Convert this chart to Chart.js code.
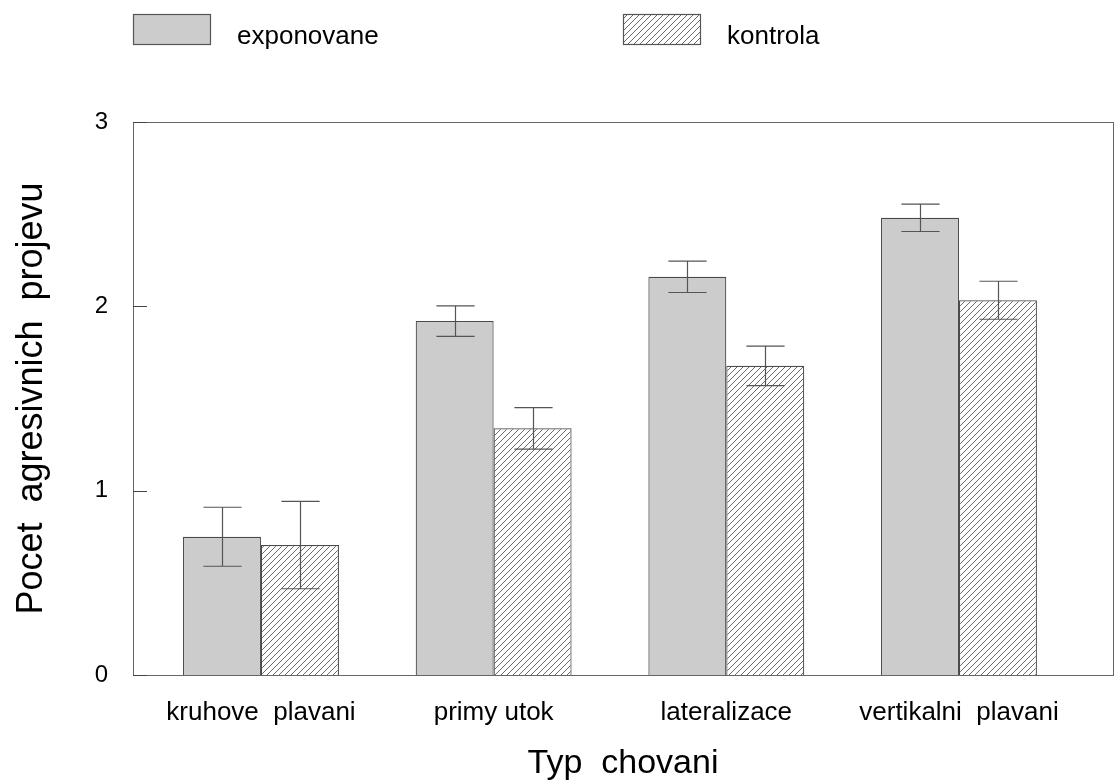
<!DOCTYPE html>
<html>
<head>
<meta charset="utf-8">
<script src="https://cdn.jsdelivr.net/npm/chart.js@4.4.1/dist/chart.umd.min.js"></script>
<style>
  html, body { margin: 0; padding: 0; background: #ffffff; }
  #wrap { width: 1119px; height: 784px; position: relative; }
</style>
</head>
<body>
<div id="wrap"><canvas id="chart" width="1119" height="784"></canvas></div>
<script>
// Behaviour categories and group means with standard errors
const categories = ['kruhove  plavani', 'primy utok', 'lateralizace', 'vertikalni  plavani'];
const seriesNames = ['exponovane', 'kontrola'];
const exponovane = [0.75, 1.92, 2.16, 2.48];
const exponovaneErr = [0.16, 0.083, 0.085, 0.074];
const kontrola = [0.705, 1.338, 1.677, 2.033];
const kontrolaErr = [0.237, 0.113, 0.107, 0.103];
const yTicks = [0, 1, 2, 3];

const FONT = "'Liberation Sans', Arial, sans-serif";

// Diagonal hatch fill for the control group
function makeHatch() {
  const s = 6;
  const c = document.createElement('canvas');
  c.width = s; c.height = s;
  const g = c.getContext('2d');
  g.fillStyle = '#ffffff';
  g.fillRect(0, 0, s, s);
  g.strokeStyle = '#6a6a6a';
  g.lineWidth = 1;
  g.beginPath();
  g.moveTo(0, s); g.lineTo(s, 0);
  g.moveTo(-1, 1); g.lineTo(1, -1);
  g.moveTo(s - 1, s + 1); g.lineTo(s + 1, s - 1);
  g.stroke();
  return g.createPattern(c, 'repeat');
}
const ctx0 = document.getElementById('chart').getContext('2d');
const hatch = makeHatch();

const toPoints = arr => arr.map((v, i) => ({ x: i + 1, y: v }));

// Error bars, inward ticks, frame and legend
const decorations = {
  id: 'decorations',
  afterDatasetsDraw(chart) {
    const { ctx, scales } = chart;
    const ys = scales.y;
    const errs = [exponovaneErr, kontrolaErr];
    ctx.save();
    ctx.strokeStyle = '#555555';
    ctx.lineWidth = 1.2;
    chart.data.datasets.forEach((ds, di) => {
      const meta = chart.getDatasetMeta(di);
      meta.data.forEach((bar, i) => {
        const v = ds.data[i].y, e = errs[di][i];
        const x = Math.round(bar.x) + 0.5;
        const yt = ys.getPixelForValue(v + e);
        const yb = ys.getPixelForValue(v - e);
        const hw = bar.width * 0.245;
        ctx.beginPath();
        ctx.moveTo(x, yt); ctx.lineTo(x, yb);
        ctx.moveTo(x - hw, yt); ctx.lineTo(x + hw, yt);
        ctx.moveTo(x - hw, yb); ctx.lineTo(x + hw, yb);
        ctx.stroke();
      });
    });
    ctx.restore();
  },
  afterDraw(chart) {
    const { ctx, chartArea: a, scales } = chart;
    const ys = scales.y;
    ctx.save();
    // frame
    ctx.strokeStyle = '#666666';
    ctx.lineWidth = 1;
    ctx.strokeRect(Math.round(a.left) + 0.5, Math.round(a.top) + 0.5,
                   Math.round(a.right - a.left), Math.round(a.bottom - a.top));
    // inward y ticks
    ctx.strokeStyle = '#444444';
    ctx.beginPath();
    yTicks.forEach(t => {
      const y = Math.round(ys.getPixelForValue(t)) + 0.5;
      ctx.moveTo(a.left, y); ctx.lineTo(a.left + 14, y);
    });
    ctx.stroke();
    // legend
    const fills = ['#cccccc', hatch];
    const half = (a.right - a.left) / 2;
    ctx.font = '26px ' + FONT;
    ctx.textBaseline = 'alphabetic';
    ctx.textAlign = 'left';
    seriesNames.forEach((name, i) => {
      const bx = Math.round(a.left + i * half);
      ctx.fillStyle = fills[i];
      ctx.fillRect(bx, 14, 77, 30);
      ctx.strokeStyle = '#555555';
      ctx.lineWidth = 1.2;
      ctx.strokeRect(bx + 0.5, 14.5, 77, 30);
      ctx.fillStyle = '#000000';
      ctx.fillText(name, bx + 104, 44);
    });
    ctx.restore();
  }
};

new Chart(ctx0, {
  type: 'bar',
  data: {
    datasets: [
      {
        label: seriesNames[0],
        data: toPoints(exponovane),
        backgroundColor: '#cccccc',
        borderColor: '#4a4a4a',
        borderWidth: 1.2
      },
      {
        label: seriesNames[1],
        data: toPoints(kontrola),
        backgroundColor: hatch,
        borderColor: '#4a4a4a',
        borderWidth: 1.2
      }
    ]
  },
  options: {
    responsive: false,
    animation: false,
    datasets: { bar: { categoryPercentage: 0.67, barPercentage: 1.0 } },
    layout: { padding: { top: 122, right: 6, left: 0, bottom: 0 } },
    plugins: {
      legend: { display: false },
      tooltip: { enabled: false }
    },
    scales: {
      x: {
        type: 'linear',
        offset: false,
        min: 0.45,
        max: 4.662,
        afterBuildTicks: s => { s.ticks = categories.map((_, i) => ({ value: i + 1 })); },
        afterFit: s => { s.height = 109; },
        grid: { display: false, drawTicks: false },
        border: { display: false },
        ticks: {
          autoSkip: false,
          maxRotation: 0,
          padding: 22,
          color: '#000000',
          font: { family: FONT, size: 26 },
          callback: v => categories[v - 1]
        },
        title: {
          display: true,
          text: 'Typ  chovani',
          color: '#000000',
          font: { family: FONT, size: 34 },
          padding: { top: 11, bottom: 0 }
        }
      },
      y: {
        min: 0,
        max: 3,
        afterBuildTicks: s => { s.ticks = yTicks.map(v => ({ value: v })); },
        afterFit: s => { s.width = 133; },
        grid: { display: false, drawTicks: false },
        border: { display: false },
        ticks: {
          padding: 25,
          color: '#000000',
          font: { family: FONT, size: 24 }
        },
        title: {
          display: true,
          text: 'Pocet  agresivnich  projevu',
          color: '#000000',
          font: { family: FONT, size: 36 },
          padding: { top: 10, bottom: 0 }
        }
      }
    }
  },
  plugins: [decorations]
});
</script>
</body>
</html>
